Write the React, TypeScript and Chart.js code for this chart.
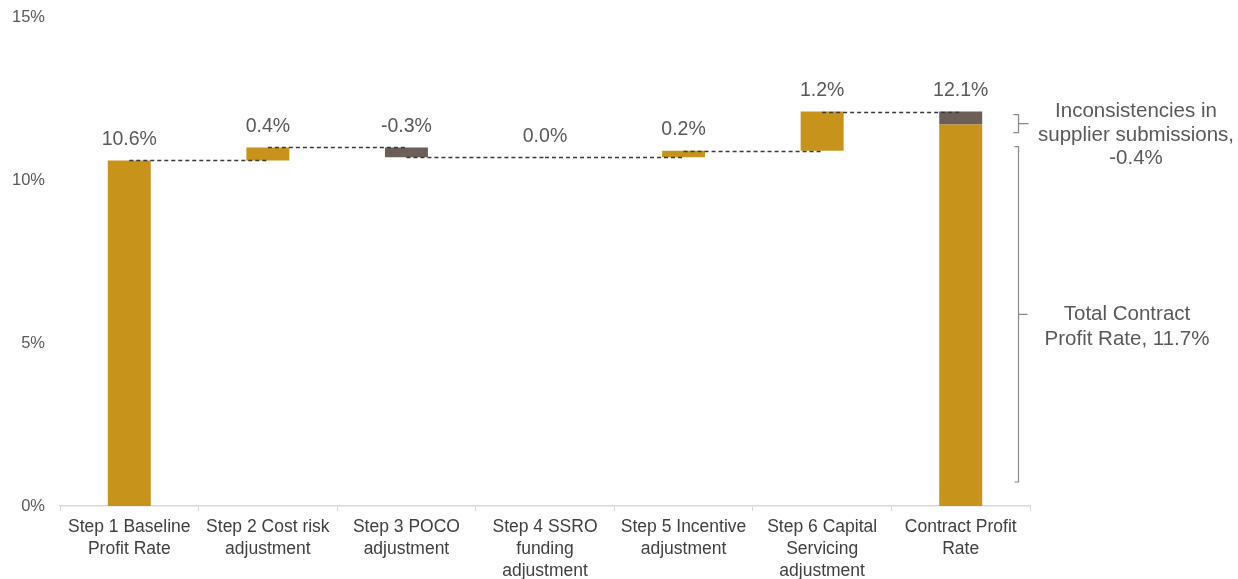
import React, { useEffect, useRef } from "react";
import { Chart, registerables } from "chart.js";

Chart.register(...registerables);

const categories: string[][] = [
  ["Step 1 Baseline", "Profit Rate"],
  ["Step 2 Cost risk", "adjustment"],
  ["Step 3 POCO", "adjustment"],
  ["Step 4 SSRO", "funding", "adjustment"],
  ["Step 5 Incentive", "adjustment"],
  ["Step 6 Capital", "Servicing", "adjustment"],
  ["Contract Profit", "Rate"],
];
const stepValues: number[] = [10.6, 0.4, -0.3, 0.0, 0.2, 1.2];
const totalContractRate = 11.7;
const inconsistencyAdj = -0.4;
const yTickValues: number[] = [0, 5, 10, 15];

const GOLD = "#C8931A";
const GREY = "#6B5F57";
const TEXT = "#595959";
const FONT = "'Liberation Sans', Arial, sans-serif";

const r1 = (v: number) => Math.round(v * 1000) / 1000;

let run = 0;
const stepBars: [number, number][] = stepValues.map((v) => {
  const s = run;
  run = r1(run + v);
  return [s, run];
});
const finalTotal = r1(totalContractRate - inconsistencyAdj);

const mainData: ([number, number] | null)[] = [...stepBars, [0, totalContractRate]];
const greyData: ([number, number] | null)[] = [
  ...stepBars.map(() => null),
  [totalContractRate, finalTotal],
];
const mainColors = stepValues.map((v) => (v < 0 ? GREY : GOLD)).concat([GOLD]);
const barLabels = stepValues.map((v) => v.toFixed(1) + "%").concat([finalTotal.toFixed(1) + "%"]);
const barTops = stepBars.map((b) => Math.max(b[0], b[1])).concat([finalTotal]);

const extrasPlugin = {
  id: "waterfallExtras",
  afterDatasetsDraw(chart: any) {
    const ctx = chart.ctx as CanvasRenderingContext2D;
    const xs = chart.scales.x;
    const ys = chart.scales.y;
    ctx.save();
    // connectors
    ctx.strokeStyle = "#3a3a3a";
    ctx.lineWidth = 1.3;
    ctx.setLineDash([4, 3]);
    for (let i = 0; i < stepBars.length; i++) {
      const y = Math.round(ys.getPixelForValue(stepBars[i][1])) + 0.5;
      ctx.beginPath();
      ctx.moveTo(xs.getPixelForValue(i), y);
      ctx.lineTo(xs.getPixelForValue(i + 1), y);
      ctx.stroke();
    }
    ctx.setLineDash([]);
    // data labels
    ctx.fillStyle = TEXT;
    ctx.font = `19.5px ${FONT}`;
    ctx.textAlign = "center";
    ctx.textBaseline = "middle";
    barLabels.forEach((t, i) => {
      ctx.fillText(t, xs.getPixelForValue(i), ys.getPixelForValue(barTops[i]) - 21);
    });
    // brackets
    ctx.strokeStyle = "#8a8a8a";
    ctx.lineWidth = 1.2;
    const bx = 1018.5;
    const drawBracket = (top: number, bottom: number, armL: number, armR: number) => {
      const mid = (top + bottom) / 2;
      ctx.beginPath();
      ctx.moveTo(bx - armL, top);
      ctx.lineTo(bx, top);
      ctx.lineTo(bx, bottom);
      ctx.lineTo(bx - armL, bottom);
      ctx.moveTo(bx, mid);
      ctx.lineTo(bx + armR, mid);
      ctx.stroke();
      return mid;
    };
    const uTop = ys.getPixelForValue(finalTotal) + 3;
    const uBot = ys.getPixelForValue(totalContractRate) + 8;
    const uMid = drawBracket(uTop, uBot, 5, 10);
    const lTop = ys.getPixelForValue(totalContractRate) + 22;
    const lBot = ys.getPixelForValue(0) - 24;
    const lMid = drawBracket(lTop, lBot, 4, 9);
    ctx.fillStyle = TEXT;
    ctx.font = `20.5px ${FONT}`;
    const upper = ["Inconsistencies in", "supplier submissions,", inconsistencyAdj.toFixed(1) + "%"];
    upper.forEach((t, i) => ctx.fillText(t, 1136, uMid - 12 + i * 23.5));
    const lower = ["Total Contract", "Profit Rate, " + totalContractRate.toFixed(1) + "%"];
    lower.forEach((t, i) => ctx.fillText(t, 1127, lMid + i * 25));
    ctx.restore();
  },
};

export default function App() {
  const ref = useRef<HTMLCanvasElement | null>(null);
  useEffect(() => {
    document.body.style.margin = "0";
    const canvas = ref.current;
    if (!canvas) return;
    const chart = new Chart(canvas, {
      type: "bar",
      data: {
        labels: categories as any,
        datasets: [
          {
            data: mainData as any,
            backgroundColor: mainColors,
            borderWidth: 0,
            grouped: false,
            barPercentage: 0.31,
            categoryPercentage: 1,
          } as any,
          {
            data: greyData as any,
            backgroundColor: GREY,
            borderWidth: 0,
            grouped: false,
            barPercentage: 0.31,
            categoryPercentage: 1,
          } as any,
        ],
      },
      options: {
        responsive: false,
        animation: false,
        layout: { padding: { top: 17, right: 208, left: 0, bottom: 0 } },
        plugins: { legend: { display: false }, tooltip: { enabled: false } },
        scales: {
          x: {
            grid: { display: true, drawOnChartArea: false, drawTicks: true, tickLength: 5, color: "#d9d9d9", offset: true },
            border: { display: true, color: "#d9d9d9", width: 1.5 },
            ticks: {
              color: "#404040",
              font: { family: FONT, size: 17.5, lineHeight: 1.25 },
              padding: 5,
              maxRotation: 0,
              autoSkip: false,
            },
            afterFit: (s: any) => {
              s.height = 73;
              s.paddingLeft = 0;
              s.paddingRight = 0;
            },
          },
          y: {
            min: 0,
            max: 15,
            grid: { display: false, drawTicks: false },
            border: { display: false },
            ticks: {
              color: TEXT,
              font: { family: FONT, size: 16.5 },
              padding: 15,
              callback: (v: any) => v + "%",
            },
            afterBuildTicks: (s: any) => {
              s.ticks = yTickValues.map((v) => ({ value: v }));
            },
            afterFit: (s: any) => {
              s.width = 60;
              s.paddingTop = 0;
              s.paddingBottom = 0;
            },
          },
        },
      },
      plugins: [extrasPlugin],
    });
    return () => chart.destroy();
  }, []);
  return (
    <div style={{ width: 1238, height: 579 }}>
      <canvas ref={ref} width={1238} height={579} style={{ display: "block" }} />
    </div>
  );
}
